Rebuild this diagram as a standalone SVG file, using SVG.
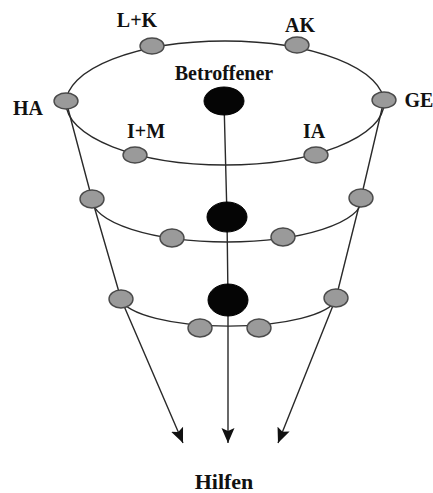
<svg xmlns="http://www.w3.org/2000/svg" width="433" height="493" viewBox="0 0 433 493">
<style>
.ln{fill:none;stroke:#2a2a2a;stroke-width:1.4}
.gn{fill:#9a9a9a;stroke:#4a4a4a;stroke-width:1.4}
.bn{fill:#050505;stroke:#000;stroke-width:1}
.lb{font-family:"Liberation Serif",serif;font-weight:bold;font-size:20px;fill:#111;text-anchor:middle}
</style>
<defs>
<marker id="ah" markerUnits="userSpaceOnUse" markerWidth="16" markerHeight="14" refX="15" refY="6.5" orient="auto" viewBox="0 0 16 13">
<path d="M0,0 L15,6.5 L0,13 L3,6.5 z" fill="#111"/>
</marker>
</defs>
<rect width="433" height="493" fill="#fff"/>
<g id="connectors">
<ellipse class="ln" cx="225" cy="103" rx="159" ry="62"/>
<path class="ln" d="M92,199 A135,43 0 0 0 362,199"/>
<path class="ln" d="M121,299 A108,30 0 0 0 336,299"/>
<polyline class="ln" points="66,101 92,199 121,299 183,443" marker-end="url(#ah)"/>
<polyline class="ln" points="384,100 361,198 336,298 278,443" marker-end="url(#ah)"/>
<polyline class="ln" points="224,101 227,217 228,300 228,443" marker-end="url(#ah)"/>
</g>
<g id="betroffener"><ellipse class="bn" cx="224" cy="101" rx="20" ry="14"/><text class="lb" x="224" y="80" font-size="20">Betroffener</text></g>
<g id="betroffener2"><ellipse class="bn" cx="227" cy="217" rx="20" ry="15"/></g>
<g id="betroffener3"><ellipse class="bn" cx="228" cy="300" rx="20" ry="16"/></g>
<g id="lk"><ellipse class="gn" cx="152" cy="46" rx="12" ry="8"/><text class="lb" x="137" y="27">L+K</text></g>
<g id="ak"><ellipse class="gn" cx="297" cy="45" rx="12" ry="8"/><text class="lb" x="300" y="32">AK</text></g>
<g id="ha"><ellipse class="gn" cx="66" cy="101" rx="12" ry="8"/><text class="lb" x="28" y="115">HA</text></g>
<g id="ge"><ellipse class="gn" cx="384" cy="100" rx="12" ry="8"/><text class="lb" x="419" y="107">GE</text></g>
<g id="im"><ellipse class="gn" cx="135" cy="155" rx="12" ry="8"/><text class="lb" x="146" y="138">I+M</text></g>
<g id="ia"><ellipse class="gn" cx="316" cy="155" rx="12" ry="8"/><text class="lb" x="314" y="138">IA</text></g>
<g id="l2"><ellipse class="gn" cx="92" cy="199" rx="12" ry="9"/></g>
<g id="r2"><ellipse class="gn" cx="361" cy="198" rx="12" ry="9"/></g>
<g id="bl2"><ellipse class="gn" cx="172" cy="238" rx="12" ry="9"/></g>
<g id="br2"><ellipse class="gn" cx="283" cy="237" rx="12" ry="9"/></g>
<g id="l3"><ellipse class="gn" cx="121" cy="299" rx="12" ry="9"/></g>
<g id="r3"><ellipse class="gn" cx="336" cy="298" rx="12" ry="9"/></g>
<g id="bl3"><ellipse class="gn" cx="200" cy="328" rx="12" ry="9"/></g>
<g id="br3"><ellipse class="gn" cx="259" cy="328" rx="12" ry="9"/></g>
<g id="hilfen"><text class="lb" x="224" y="489" style="font-size:22px">Hilfen</text></g>
</svg>
